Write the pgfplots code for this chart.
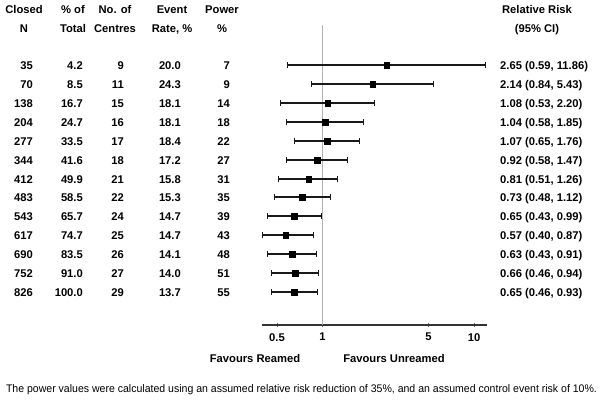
\documentclass[border=0pt]{standalone}
\usepackage{pgfplots}
\pgfplotsset{compat=1.18}
\usepackage{fontspec}
\setmainfont{Liberation Sans}
\begin{document}
\begin{tikzpicture}[every node/.style={font=\fontsize{11.2bp}{13bp}\selectfont\bfseries, inner sep=0pt}]
\useasboundingbox (0,0) rectangle (601bp,-407bp);
% headers
\node[anchor=base] at (24bp,-13bp) {Closed};
\node[anchor=base] at (24bp,-32bp) {N};
\node[anchor=base] at (73bp,-13bp) {\% of};
\node[anchor=base] at (73bp,-32bp) {Total};
\node[anchor=base] at (115bp,-13bp) {No. of};
\node[anchor=base] at (115bp,-32bp) {Centres};
\node[anchor=base] at (172bp,-13bp) {Event};
\node[anchor=base] at (172bp,-32bp) {Rate, \%};
\node[anchor=base] at (222bp,-13bp) {Power};
\node[anchor=base] at (222bp,-32bp) {\%};
\node[anchor=base] at (537bp,-13bp) {Relative Risk};
\node[anchor=base] at (537bp,-32bp) {(95\% CI)};
% table rows (row centre in pixels from top)
\foreach \yr/\n/\pct/\cen/\ev/\pw/\rr in {
65/35/4.2/9/20.0/7/{2.65 (0.59, 11.86)},
84/70/8.5/11/24.3/9/{2.14 (0.84, 5.43)},
103/138/16.7/15/18.1/14/{1.08 (0.53, 2.20)},
122/204/24.7/16/18.1/18/{1.04 (0.58, 1.85)},
141/277/33.5/17/18.4/22/{1.07 (0.65, 1.76)},
160/344/41.6/18/17.2/27/{0.92 (0.58, 1.47)},
179/412/49.9/21/15.8/31/{0.81 (0.51, 1.26)},
197/483/58.5/22/15.3/35/{0.73 (0.48, 1.12)},
216/543/65.7/24/14.7/39/{0.65 (0.43, 0.99)},
235/617/74.7/25/14.7/43/{0.57 (0.40, 0.87)},
254/690/83.5/26/14.1/48/{0.63 (0.43, 0.91)},
273/752/91.0/27/14.0/51/{0.66 (0.46, 0.94)},
292/826/100.0/29/13.7/55/{0.65 (0.46, 0.93)}}{
  \pgfmathsetmacro{\yy}{-(\yr+4)}
  \node[anchor=base east] at (33bp,\yy bp) {\n};
  \node[anchor=base east] at (83bp,\yy bp) {\pct};
  \node[anchor=base east] at (124bp,\yy bp) {\cen};
  \node[anchor=base east] at (181bp,\yy bp) {\ev};
  \node[anchor=base east] at (230bp,\yy bp) {\pw};
  \node[anchor=base west] at (500bp,\yy bp) {\rr};
}
\begin{axis}[
  at={(261.8bp,-325bp)}, anchor=south west,
  scale only axis, width=224.9bp, height=300bp,
  xmode=log, xmin=0.397, xmax=12.13,
  ymin=25, ymax=325, y dir=reverse,
  axis x line=bottom, axis y line=none,
  x axis line style={-, black!80, line width=1.2bp},
  xtick={0.5,1,5,10}, xticklabels={0.5,1,5,10},
  minor xtick={0.6,0.7,0.8,0.9,2,3,4,6,7,8,9},
  tick align=center, major tick length=4bp, minor tick length=2.5bp,
  major tick style={black!60, line width=0.6bp},
  minor tick style={black!35, line width=0.5bp},
  xticklabel style={font=\fontsize{11.2bp}{13bp}\selectfont\bfseries, yshift=-6bp},
  /pgf/number format/assume math mode=true,
  clip=false,
]
\addplot[black!30, line width=0.9bp] coordinates {(1,25) (1,325)};
\pgfplotsset{cistyle/.style={black!90, line width=1.8bp, mark=|, mark size=3bp, mark options={solid, line width=1bp}}}
\addplot[cistyle] coordinates {(0.59,65) (11.86,65)};
\addplot[cistyle] coordinates {(0.84,84) (5.43,84)};
\addplot[cistyle] coordinates {(0.53,103) (2.20,103)};
\addplot[cistyle] coordinates {(0.58,122) (1.85,122)};
\addplot[cistyle] coordinates {(0.65,141) (1.76,141)};
\addplot[cistyle] coordinates {(0.58,160) (1.47,160)};
\addplot[cistyle] coordinates {(0.51,179) (1.26,179)};
\addplot[cistyle] coordinates {(0.48,197) (1.12,197)};
\addplot[cistyle] coordinates {(0.43,216) (0.99,216)};
\addplot[cistyle] coordinates {(0.40,235) (0.87,235)};
\addplot[cistyle] coordinates {(0.43,254) (0.91,254)};
\addplot[cistyle] coordinates {(0.46,273) (0.94,273)};
\addplot[cistyle] coordinates {(0.46,292) (0.93,292)};
\addplot[only marks, mark=square*, mark size=2.9bp, black] coordinates {
(2.65,65) (2.14,84) (1.08,103) (1.04,122) (1.07,141) (0.92,160) (0.81,179)
(0.73,197) (0.65,216) (0.57,235) (0.63,254) (0.66,273) (0.65,292)};
\end{axis}
\node[anchor=base] at (255bp,-362bp) {Favours Reamed};
\node[anchor=base] at (394bp,-362bp) {Favours Unreamed};
\node[anchor=base] at (301.5bp,-392bp) {\resizebox{591bp}{\height}{\mdseries\fontsize{11bp}{13bp}\selectfont The power values were calculated using an assumed relative risk reduction of 35\%, and an assumed control event risk of 10\%.}};
\end{tikzpicture}
\end{document}
